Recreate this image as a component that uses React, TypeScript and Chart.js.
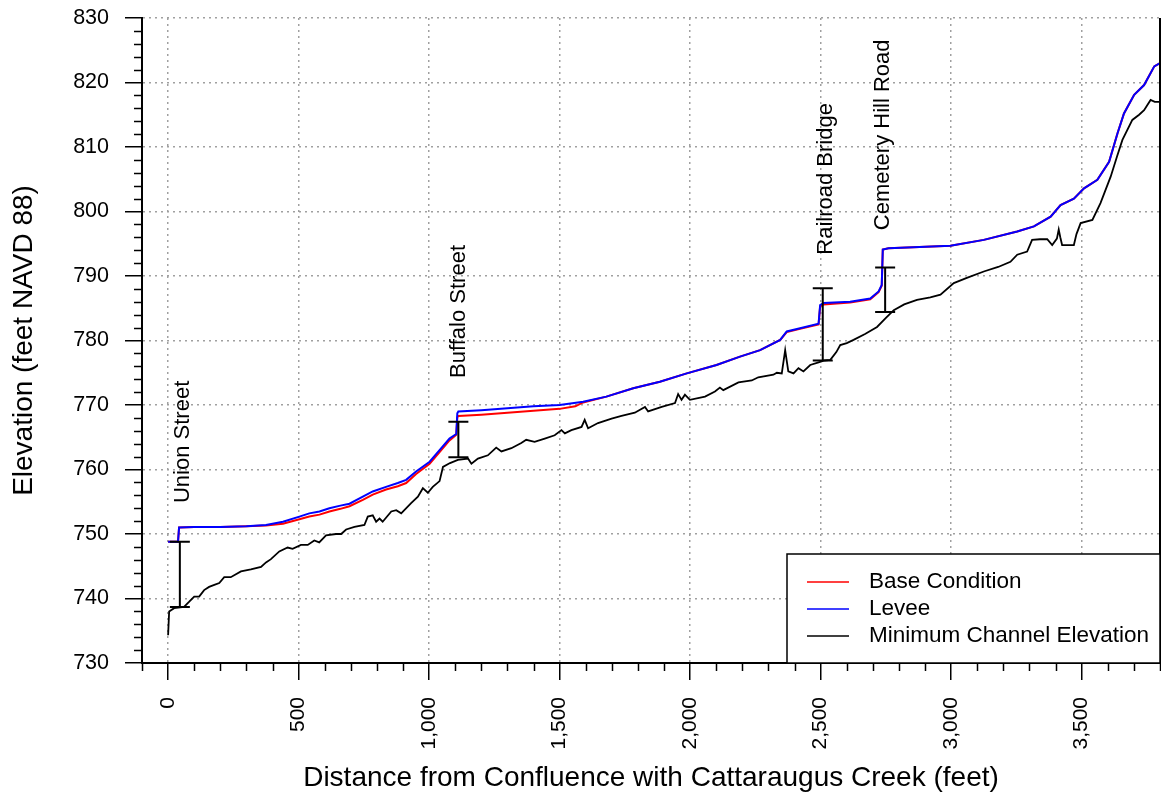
import { useEffect, useRef } from "react";
import { Chart, registerables } from "chart.js";

Chart.register(...registerables);

// Minimum channel elevation profile
const channelX = [
  0, 4, 23, 61, 81, 100, 119, 138, 157, 177, 196, 215, 240, 279, 317, 356, 375, 394, 426, 458,
  477, 509, 535, 560, 579, 605, 643, 663, 682, 714, 752, 765, 784, 797, 810, 822, 855, 874, 893, 931,
  957, 976, 995, 1014, 1040, 1053, 1080, 1110, 1149, 1162, 1187, 1225, 1257, 1277, 1315, 1353, 1372, 1404, 1443, 1481,
  1507, 1520, 1545, 1584, 1596, 1609, 1647, 1699, 1737, 1788, 1827, 1839, 1891, 1942, 1954, 1967, 1980, 1999, 2057, 2095,
  2114, 2127, 2185, 2236, 2261, 2319, 2332, 2351, 2364, 2376, 2396, 2415, 2434, 2460, 2492, 2515, 2537, 2560, 2575, 2600,
  2626, 2670, 2716, 2750, 2780, 2820, 2869, 2920, 2959, 3010, 3060, 3125, 3180, 3227, 3253, 3291, 3310, 3340, 3368, 3387,
  3405, 3412, 3418, 3425, 3470, 3480, 3496, 3541, 3572, 3590, 3611, 3635, 3656, 3694, 3720, 3739, 3764, 3780, 3800,
];
const channelY = [
  734.3, 738.0, 738.5, 738.7, 739.5, 740.3, 740.3, 741.3, 741.8, 742.1, 742.4, 743.3, 743.3, 744.2, 744.5, 744.9, 745.6, 746.1, 747.3, 747.9,
  747.7, 748.3, 748.3, 749.0, 748.7, 749.8, 750.0, 750.0, 750.7, 751.1, 751.4, 752.7, 752.9, 751.9, 752.4, 751.9, 753.5, 753.7, 753.2, 754.8,
  755.8, 757.1, 756.4, 757.3, 758.2, 760.4, 761.0, 761.5, 761.7, 760.9, 761.7, 762.2, 763.4, 762.8, 763.3, 764.1, 764.6, 764.3, 764.8, 765.3,
  766.1, 765.6, 766.1, 766.6, 767.7, 766.4, 767.2, 767.9, 768.3, 768.8, 769.7, 769.0, 769.7, 770.3, 771.7, 770.8, 771.6, 770.8, 771.3, 772.1,
  772.7, 772.3, 773.5, 773.8, 774.3, 774.7, 775.0, 774.9, 778.5, 775.2, 774.9, 775.7, 775.2, 776.2, 776.6, 776.9, 777.0, 778.2, 779.3, 779.6,
  780.1, 781.0, 782.1, 783.5, 784.7, 785.6, 786.3, 786.7, 787.1, 788.9, 789.7, 790.7, 791.4, 792.2, 793.3, 793.8, 795.6, 795.7, 795.7, 794.8,
  795.8, 797.2, 796.0, 794.8, 794.8, 796.5, 798.2, 798.7, 801.3, 803.2, 805.4, 808.5, 811.1, 814.2, 815.0, 815.7, 817.3, 817.0, 817.0,
];

// Levee water surface profile
const leveeX = [
  0, 38, 42, 100, 200, 300, 375, 440, 503, 541, 580, 618, 660, 695, 746, 784, 835, 880, 912, 950,
  1002, 1040, 1078, 1104, 1108, 1112, 1200, 1300, 1400, 1500, 1590, 1679, 1782, 1884, 1987, 2101, 2191, 2268, 2345, 2370,
  2421, 2492, 2498, 2511, 2613, 2690, 2722, 2734, 2738, 2760, 2997, 3125, 3253, 3317, 3381, 3419, 3470, 3509, 3560, 3605,
  3637, 3662, 3701, 3739, 3778, 3800,
];
const leveeY = [
  748.8, 748.8, 751.0, 751.1, 751.1, 751.2, 751.4, 751.9, 752.7, 753.2, 753.5, 754.0, 754.4, 754.7, 755.8, 756.6, 757.3, 757.9, 758.4, 759.7,
  761.2, 763.0, 764.8, 765.5, 768.7, 769.0, 769.2, 769.5, 769.8, 770.0, 770.5, 771.3, 772.6, 773.6, 774.9, 776.2, 777.5, 778.5, 780.1, 781.4,
  781.9, 782.6, 785.5, 785.8, 786.0, 786.5, 787.6, 788.6, 794.1, 794.3, 794.7, 795.6, 796.9, 797.7, 799.2, 801.0, 802.0, 803.6, 804.9, 807.7,
  812.1, 815.2, 818.1, 819.6, 822.5, 823.0,
];

// Base condition water surface profile
const baseX = [
  0, 38, 42, 100, 200, 300, 375, 440, 503, 541, 580, 618, 660, 695, 746, 784, 835, 880, 912, 950,
  1002, 1040, 1078, 1104, 1108, 1112, 1200, 1300, 1400, 1500, 1560, 1590, 1679, 1782, 1884, 1987, 2101, 2191, 2268, 2345,
  2370, 2421, 2492, 2498, 2511, 2613, 2690, 2722, 2734, 2738, 2760, 2997, 3125, 3253, 3317, 3381, 3419, 3470, 3509, 3560,
  3605, 3637, 3662, 3701, 3739, 3778, 3800,
];
const baseY = [
  748.8, 748.8, 751.0, 751.1, 751.1, 751.2, 751.3, 751.6, 752.3, 752.7, 753.0, 753.5, 753.9, 754.3, 755.3, 756.1, 756.9, 757.4, 757.9, 759.3,
  760.9, 762.7, 764.5, 765.4, 768.1, 768.3, 768.5, 768.8, 769.1, 769.4, 769.8, 770.4, 771.3, 772.6, 773.6, 774.9, 776.2, 777.5, 778.5, 780.1,
  781.3, 781.8, 782.5, 785.3, 785.6, 785.9, 786.4, 787.5, 788.5, 794.1, 794.3, 794.7, 795.6, 796.9, 797.7, 799.2, 801.0, 802.0, 803.6, 804.9,
  807.7, 812.1, 815.2, 818.1, 819.6, 822.5, 823.0,
];

const xTicks = [0, 500, 1000, 1500, 2000, 2500, 3000, 3500];
const yTicks = [730, 740, 750, 760, 770, 780, 790, 800, 810, 820, 830];

const bridgeNames = ["Union Street", "Buffalo Street", "Railroad Bridge", "Cemetery Hill Road"];
const bridgeX = [45, 1112, 2508, 2747];
const bridgeTop = [748.8, 767.4, 788.1, 791.3];
const bridgeBottom = [738.7, 761.9, 776.9, 784.4];
const labelX = [58, 1113, 2521, 2740];
const labelY = [754.8, 774.2, 793.3, 797.1];

const seriesNames = ["Base Condition", "Levee", "Minimum Channel Elevation"];
const seriesColors = ["#ff0000", "#0000ff", "#000000"];

const FONT = '"Liberation Sans", Arial, sans-serif';

const toPoints = (xs: number[], ys: number[]) => xs.map((x, i) => ({ x, y: ys[i] }));

const overlayPlugin = {
  id: "overlay",
  afterDatasetsDraw(chart: any) {
    const { ctx, chartArea } = chart;
    const xs = chart.scales.x;
    const ys = chart.scales.y;
    ctx.save();

    // bridge bars
    ctx.strokeStyle = "#000";
    ctx.lineWidth = 2;
    bridgeX.forEach((bx, i) => {
      const px = xs.getPixelForValue(bx);
      const t = ys.getPixelForValue(bridgeTop[i]);
      const b = ys.getPixelForValue(bridgeBottom[i]);
      ctx.beginPath();
      ctx.moveTo(px, t);
      ctx.lineTo(px, b);
      ctx.moveTo(px - 10, t);
      ctx.lineTo(px + 10, t);
      ctx.moveTo(px - 10, b);
      ctx.lineTo(px + 10, b);
      ctx.stroke();
    });

    // bridge labels
    ctx.fillStyle = "#000";
    ctx.font = `22px ${FONT}`;
    ctx.textAlign = "left";
    ctx.textBaseline = "middle";
    bridgeNames.forEach((name, i) => {
      const px = xs.getPixelForValue(labelX[i]);
      const py = ys.getPixelForValue(labelY[i]);
      ctx.save();
      ctx.translate(px, py);
      ctx.rotate(-Math.PI / 2);
      ctx.fillText(name, 0, 0);
      ctx.restore();
    });

    // right frame
    ctx.strokeStyle = "#000";
    ctx.lineWidth = 2;
    ctx.beginPath();
    ctx.moveTo(chartArea.right, chartArea.top);
    ctx.lineTo(chartArea.right, chartArea.bottom);
    ctx.stroke();

    // minor ticks
    ctx.lineWidth = 1.5;
    ctx.beginPath();
    for (let v = xs.min; v <= xs.max; v += 100) {
      if (v % 500 === 0) continue;
      const px = Math.round(xs.getPixelForValue(v)) + 0.5;
      ctx.moveTo(px, chartArea.bottom);
      ctx.lineTo(px, chartArea.bottom + 8);
    }
    for (let v = ys.min; v <= ys.max; v += 2) {
      if (v % 10 === 0) continue;
      const py = Math.round(ys.getPixelForValue(v)) + 0.5;
      ctx.moveTo(chartArea.left - 8, py);
      ctx.lineTo(chartArea.left, py);
    }
    ctx.stroke();

    // legend
    const lx = chartArea.right - 373;
    const ly = chartArea.bottom - 109;
    ctx.fillStyle = "#fff";
    ctx.fillRect(lx, ly, chartArea.right - lx, chartArea.bottom - ly);
    ctx.strokeStyle = "#000";
    ctx.lineWidth = 1.5;
    ctx.strokeRect(lx, ly, chartArea.right - lx, chartArea.bottom - ly);
    ctx.font = `22.5px ${FONT}`;
    ctx.textAlign = "left";
    ctx.textBaseline = "middle";
    seriesNames.forEach((name, i) => {
      const ry = ly + 28 + i * 27;
      ctx.strokeStyle = seriesColors[i];
      ctx.lineWidth = 1.5;
      ctx.beginPath();
      ctx.moveTo(lx + 20, ry);
      ctx.lineTo(lx + 62, ry);
      ctx.stroke();
      ctx.fillStyle = "#000";
      ctx.fillText(name, lx + 82, ry);
    });

    ctx.restore();
  },
};

export default function App() {
  const canvasRef = useRef<HTMLCanvasElement | null>(null);

  useEffect(() => {
    document.body.style.margin = "0";
    const canvas = canvasRef.current;
    if (!canvas) return;
    const chart = new Chart(canvas, {
      type: "line",
      data: {
        datasets: [
          {
            label: seriesNames[1],
            data: toPoints(leveeX, leveeY),
            borderColor: seriesColors[1],
            borderWidth: 2,
            pointRadius: 0,
            order: 0,
          },
          {
            label: seriesNames[0],
            data: toPoints(baseX, baseY),
            borderColor: seriesColors[0],
            borderWidth: 2,
            pointRadius: 0,
            order: 1,
          },
          {
            label: seriesNames[2],
            data: toPoints(channelX, channelY),
            borderColor: seriesColors[2],
            borderWidth: 1.8,
            pointRadius: 0,
            order: 2,
          },
        ],
      },
      options: {
        animation: false,
        responsive: false,
        maintainAspectRatio: false,
        devicePixelRatio: 1,
        layout: { padding: { top: 18, right: 1, bottom: 0, left: 0 } },
        plugins: { legend: { display: false }, tooltip: { enabled: false } },
        elements: { line: { tension: 0 } },
        scales: {
          x: {
            type: "linear",
            min: -100,
            max: 3800,
            afterBuildTicks: (scale: any) => {
              scale.ticks = xTicks.map((v) => ({ value: v }));
            },
            afterFit: (scale: any) => {
              scale.height = 135;
              scale.paddingLeft = 0;
              scale.paddingRight = 0;
            },
            ticks: {
              minRotation: 90,
              maxRotation: 90,
              padding: 17,
              color: "#000",
              font: { family: FONT, size: 21 },
              callback: (v: any) => Number(v).toLocaleString("en-US"),
            },
            grid: {
              color: "#a0a0a0",
              lineWidth: 1.5,
              tickLength: 17,
              tickColor: "#000",
              tickWidth: 1.5,
            },
            border: { display: true, color: "#000", width: 2, dash: [2, 4] },
            title: {
              display: true,
              text: "Distance from Confluence with Cattaraugus Creek (feet)",
              color: "#000",
              font: { family: FONT, size: 28 },
              padding: { top: 0, bottom: 3 },
            },
          },
          y: {
            type: "linear",
            min: 730,
            max: 830,
            afterBuildTicks: (scale: any) => {
              scale.ticks = yTicks.map((v) => ({ value: v }));
            },
            afterFit: (scale: any) => {
              scale.width = 142;
              scale.paddingTop = 0;
              scale.paddingBottom = 0;
            },
            ticks: {
              padding: 16,
              color: "#000",
              font: { family: FONT, size: 21.5 },
            },
            grid: {
              color: "#a0a0a0",
              lineWidth: 1.5,
              tickLength: 17,
              tickColor: "#000",
              tickWidth: 1.5,
            },
            border: { display: true, color: "#000", width: 2, dash: [2, 4] },
            title: {
              display: true,
              text: "Elevation (feet NAVD 88)",
              color: "#000",
              font: { family: FONT, size: 28 },
              padding: { top: 7, bottom: 0 },
            },
          },
        },
      },
      plugins: [overlayPlugin],
    } as any);
    return () => chart.destroy();
  }, []);

  return (
    <div style={{ width: 1161, height: 798 }}>
      <canvas ref={canvasRef} width={1161} height={798} style={{ display: "block" }} />
    </div>
  );
}
